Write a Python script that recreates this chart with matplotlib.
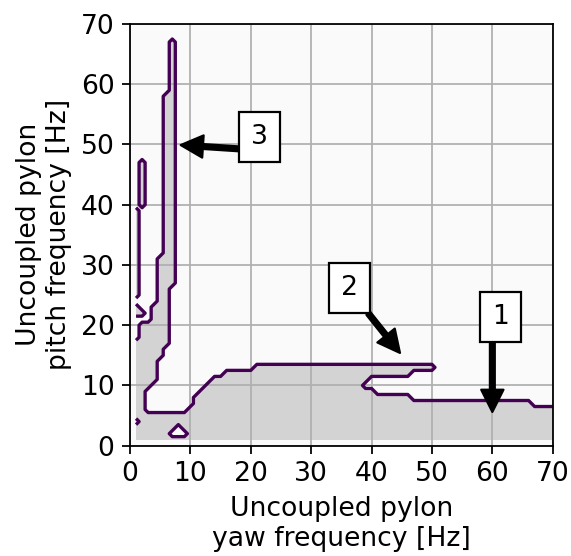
import matplotlib
matplotlib.use("Agg")
import matplotlib.pyplot as plt
import numpy as np

plt.rcParams["font.size"] = 12

# 1 Hz grid of uncoupled pylon frequencies
yaw_hz = np.arange(1, 71)
pitch_hz = np.arange(1, 71)

# highest stable pitch frequency of the lower region, per yaw column (1..70 Hz)
lower_top = [5, 5, 5, 5, 5, 5, 5, 5, 5, 6,
             8, 9, 10, 11, 11, 12, 12, 12, 12, 12,
             13, 13, 13, 13, 13, 13, 13, 13, 13, 13,
             13, 13, 13, 13, 13, 13, 13, 13, 13, 13,
             13, 13, 13, 13, 13, 13, 13, 13, 13, 13,
             7, 7, 7, 7, 7, 7, 7, 7, 7, 7,
             7, 7, 7, 7, 7, 7, 6, 6, 6, 6]

# left branch: stable yaw range for each pitch row 6..67 Hz
branch_pitch = list(range(6, 68))
branch_from = [1, 1, 1, 1, 1, 1, 1, 1, 1, 1,
               1, 1, 2, 2, 2, 4, 4, 4, 5, 5,
               5, 5, 5, 5, 5, 5, 6, 6, 6, 6,
               6, 6, 6, 6, 6, 6, 6, 6, 6, 6,
               6, 6, 6, 6, 6, 6, 6, 6, 6, 6,
               6, 6, 6, 7, 7, 7, 7, 7, 7, 7,
               7, 7]
branch_to = [2, 2, 2, 2, 3, 4, 4, 4, 4, 5,
             5, 6, 6, 6, 6, 6, 6, 6, 6, 6,
             6, 7, 7, 7, 7, 7, 7, 7, 7, 7,
             7, 7, 7, 7, 7, 7, 7, 7, 7, 7,
             7, 7, 7, 7, 7, 7, 7, 7, 7, 7,
             7, 7, 7, 7, 7, 7, 7, 7, 7, 7,
             7, 7]

# thin stable ridge near the pitch axis
ridge_pitch = list(range(25, 48))
ridge_yaw = [1] * 15 + [2] * 8
extra_yaw = [1, 1, 2]
extra_pitch = [22, 23, 22]

# unstable notch inside the lower region
notch_yaw = list(range(39, 51))
notch_lo = [10, 10, 9, 9, 9, 9, 9, 9, 8, 8, 8, 8]
notch_hi = [10, 11, 11, 11, 11, 11, 11, 11, 12, 12, 12, 12]

# isolated unstable points
hole_yaw = [1, 7, 8, 9, 8]
hole_pitch = [4, 2, 2, 2, 3]

stable = np.zeros((len(pitch_hz), len(yaw_hz)))
for c, top in zip(yaw_hz, lower_top):
    stable[:top, c - 1] = 1
for p, lo, hi in zip(branch_pitch, branch_from, branch_to):
    stable[p - 1, lo - 1:hi] = 1
for p, c in zip(ridge_pitch, ridge_yaw):
    stable[p - 1, c - 1] = 1
for c, p in zip(extra_yaw, extra_pitch):
    stable[p - 1, c - 1] = 1
for c, lo, hi in zip(notch_yaw, notch_lo, notch_hi):
    stable[lo - 1:hi, c - 1] = 0
for c, p in zip(hole_yaw, hole_pitch):
    stable[p - 1, c - 1] = 0

fig = plt.figure(figsize=(571 / 160, 556 / 160), dpi=160)
ax = fig.add_axes([0.2277, 0.1984, 0.7403, 0.7585])
ax.set_facecolor("#fafafa")

ax.contourf(yaw_hz, pitch_hz, stable, levels=[0.5, 1.5], colors=["lightgray"])
ax.contour(yaw_hz, pitch_hz, stable, levels=[0.5], colors=["#440154"], linewidths=1.5)

ax.set_xlim(0, 70)
ax.set_ylim(0, 70)
ax.set_xticks(np.arange(0, 71, 10))
ax.set_yticks(np.arange(0, 71, 10))
ax.grid(True)
ax.set_xlabel("Uncoupled pylon\nyaw frequency [Hz]")
ax.set_ylabel("Uncoupled pylon\npitch frequency [Hz]")

arrow = dict(facecolor="black", width=2.2, headwidth=10, headlength=10, shrink=0.0)
box = dict(boxstyle="square,pad=0.45", facecolor="white", edgecolor="black")
ax.annotate("1", xy=(60, 5.6), xytext=(61.4, 21.3), ha="center", va="center",
            bbox=box, arrowprops=arrow)
ax.annotate("2", xy=(44.7, 15.4), xytext=(36.4, 26.2), ha="center", va="center",
            bbox=box, arrowprops=arrow)
ax.annotate("3", xy=(8.4, 49.9), xytext=(21.4, 51.3), ha="center", va="center",
            bbox=box, arrowprops=arrow)

fig.savefig("out.png", dpi=160)
